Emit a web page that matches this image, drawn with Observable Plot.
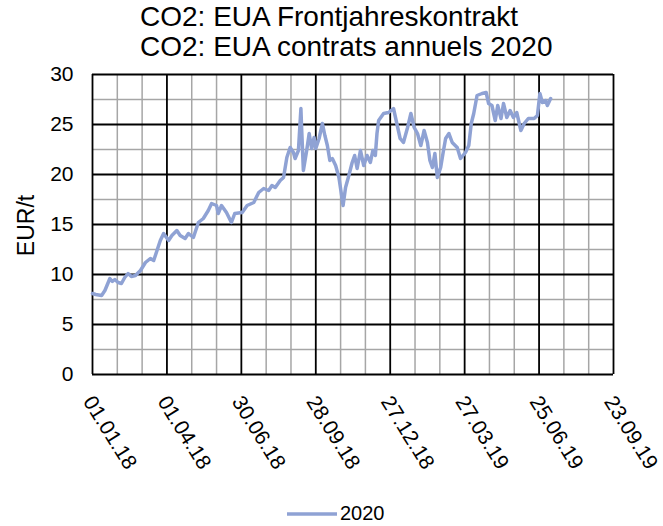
<!DOCTYPE html>
<html>
<head>
<meta charset="utf-8">
<script src="https://cdn.jsdelivr.net/npm/d3@7"></script>
<script src="https://cdn.jsdelivr.net/npm/@observablehq/plot@0.6"></script>
<style>
  html, body { margin: 0; padding: 0; background: #fff; }
  body { width: 663px; height: 526px; position: relative; overflow: hidden; font-family: "Liberation Sans", Arial, sans-serif; }
  .title { position: absolute; left: 140px; font-size: 28px; line-height: 28px; white-space: pre; color: #000; }
  #chart { position: absolute; left: 0; top: 0; }
  #legend { position: absolute; left: 0; top: 490px; }
</style>
</head>
<body>
<div class="title" style="top:3px">CO2: EUA Frontjahreskontrakt</div>
<div class="title" style="top:33px">CO2: EUA contrats annuels 2020</div>
<div id="chart"></div>
<svg id="legend" width="663" height="36"></svg>
<script>
// ---- data ----
const seriesName = "2020";
const dates = [
  "2018-01-01","2018-01-05","2018-01-12","2018-01-16","2018-01-22","2018-01-25","2018-01-28","2018-02-01","2018-02-05",
  "2018-02-09","2018-02-13","2018-02-17","2018-02-22","2018-02-28",
  "2018-03-06","2018-03-12","2018-03-16","2018-03-20","2018-03-24","2018-03-28","2018-04-03","2018-04-07","2018-04-13",
  "2018-04-17","2018-04-23","2018-04-27","2018-05-03","2018-05-09","2018-05-15","2018-05-21","2018-05-25","2018-05-31",
  "2018-06-02","2018-06-06","2018-06-12","2018-06-18","2018-06-22","2018-07-01","2018-07-07","2018-07-15","2018-07-21",
  "2018-07-27","2018-08-02","2018-08-06","2018-08-10","2018-08-16","2018-08-20","2018-08-24","2018-08-28","2018-09-01",
  "2018-09-03","2018-09-07","2018-09-10","2018-09-11","2018-09-13","2018-09-17","2018-09-20","2018-09-23","2018-09-26",
  "2018-09-28","2018-10-02","2018-10-06","2018-10-09","2018-10-12","2018-10-15","2018-10-18","2018-10-22","2018-10-26",
  "2018-10-31","2018-11-03","2018-11-07","2018-11-11","2018-11-14","2018-11-17","2018-11-21","2018-11-25","2018-11-29",
  "2018-12-03","2018-12-06","2018-12-09","2018-12-11","2018-12-13","2018-12-19","2018-12-25","2018-12-31","2019-01-04",
  "2019-01-08","2019-01-12","2019-01-17","2019-01-21","2019-01-25","2019-01-29","2019-02-02","2019-02-06","2019-02-10",
  "2019-02-13","2019-02-16","2019-02-19","2019-02-22","2019-02-26","2019-03-01","2019-03-04","2019-03-08","2019-03-12",
  "2019-03-18","2019-03-22","2019-03-28","2019-04-01","2019-04-04","2019-04-07","2019-04-11","2019-04-17","2019-04-22",
  "2019-04-25","2019-04-29","2019-05-03","2019-05-06","2019-05-10","2019-05-13","2019-05-17","2019-05-21","2019-05-25",
  "2019-05-29","2019-06-03","2019-06-07","2019-06-12","2019-06-19","2019-06-23","2019-06-26","2019-06-29","2019-07-03",
  "2019-07-05","2019-07-09"
];
const prices = [
  8.1, 8.0, 7.9, 8.4, 9.6, 9.3, 9.5, 9.2, 9.1,
  9.7, 10.1, 9.8, 9.9, 10.4,
  11.2, 11.6, 11.4, 12.4, 13.4, 14.1, 13.4, 13.9, 14.4,
  13.9, 13.6, 14.1, 13.7, 15.2, 15.6, 16.4, 17.1, 16.9,
  16.1, 16.9, 16.2, 15.2, 16.1, 16.2, 16.9, 17.2, 18.2,
  18.6, 18.4, 18.9, 18.7, 19.4, 19.7, 21.7, 22.7, 22.2,
  21.6, 22.4, 26.6, 24.4, 20.4, 22.4, 24.1, 22.6, 23.7,
  22.6, 23.6, 25.1, 23.9, 22.9, 21.4, 21.6, 20.9, 19.7,
  16.9, 18.7, 19.9, 21.2, 21.9, 20.6, 22.4, 20.9, 21.9,
  21.2, 22.4, 21.9, 24.1, 25.4, 26.1, 26.2, 26.6, 25.1,
  23.6, 23.2, 24.7, 26.1, 24.7, 24.1, 22.9, 24.4, 23.2,
  21.4, 20.7, 22.1, 19.7, 20.7, 22.2, 23.6, 24.1, 23.2,
  22.7, 21.6, 22.2, 22.9, 25.1, 26.1, 27.9, 28.1, 28.2,
  27.1, 26.9, 25.4, 26.9, 25.6, 27.1, 25.7, 26.4, 25.7,
  26.2, 24.4, 25.1, 25.6, 25.6, 25.9, 28.1, 27.2, 27.4,
  26.9, 27.6
];
const xTickLabels = ["01.01.18","01.04.18","30.06.18","28.09.18","27.12.18","27.03.19","25.06.19","23.09.19"];
const yTicks = [0, 5, 10, 15, 20, 25, 30];
const yMinorTicks = [2.5, 7.5, 12.5, 17.5, 22.5, 27.5];
const yLabel = "EUR/t";

// ---- build ----
const parseISO = d3.utcParse("%Y-%m-%d");
const parseTick = d3.utcParse("%d.%m.%y");
const rows = dates.map((d, i) => ({date: parseISO(d), value: prices[i]}));
const xMajor = xTickLabels.map(parseTick);
const xMinor = xMajor.slice(0, -1).flatMap(d => [d3.utcDay.offset(d, 30), d3.utcDay.offset(d, 60)]);
const fmt = d => xTickLabels[xMajor.findIndex(t => +t === +d)];

const lineColor = "#8FA2D4";
const gridMinor = "#A6A6A6";

const chart = Plot.plot({
  width: 663,
  height: 526,
  marginTop: 74,
  marginBottom: 152,
  marginLeft: 92,
  marginRight: 50,
  style: {fontFamily: "'Liberation Sans', Arial, sans-serif", fontSize: "21px", color: "#000", background: "transparent", overflow: "visible"},
  x: {type: "utc", domain: [xMajor[0], xMajor[xMajor.length - 1]], axis: null},
  y: {domain: [0, 30], axis: null},
  marks: [
    Plot.gridY(yMinorTicks, {stroke: gridMinor, strokeOpacity: 1, strokeWidth: 1.5}),
    Plot.gridX(xMinor, {stroke: gridMinor, strokeOpacity: 1, strokeWidth: 1.5}),
    Plot.gridY(yTicks, {stroke: "#000", strokeOpacity: 1, strokeWidth: 1.8}),
    Plot.gridX(xMajor, {stroke: "#000", strokeOpacity: 1, strokeWidth: 1.8}),
    Plot.axisY(yTicks, {tickSize: 0, tickPadding: 19, fontSize: 21, label: null}),
    Plot.text(xMajor, {x: d => d, frameAnchor: "bottom", text: fmt, rotate: 58, textAnchor: "start", lineAnchor: "bottom", dx: -10, dy: 27, fontSize: 21}),
    Plot.text([yLabel], {frameAnchor: "left", rotate: -90, textAnchor: "middle", lineAnchor: "bottom", dx: -59, dy: 1, fontSize: 23}),
    Plot.lineY(rows, {x: "date", y: "value", stroke: lineColor, strokeWidth: 3.5, strokeLinejoin: "round", strokeLinecap: "round"})
  ]
});
document.getElementById("chart").appendChild(chart);

// ---- legend ----
const lg = d3.select("#legend");
lg.append("line").attr("x1", 287).attr("x2", 337).attr("y1", 24).attr("y2", 24)
  .attr("stroke", lineColor).attr("stroke-width", 3.5);
lg.append("text").attr("x", 340).attr("y", 29.5).attr("font-size", 20)
  .attr("font-family", "'Liberation Sans', Arial, sans-serif").text(seriesName);
</script>
</body>
</html>
